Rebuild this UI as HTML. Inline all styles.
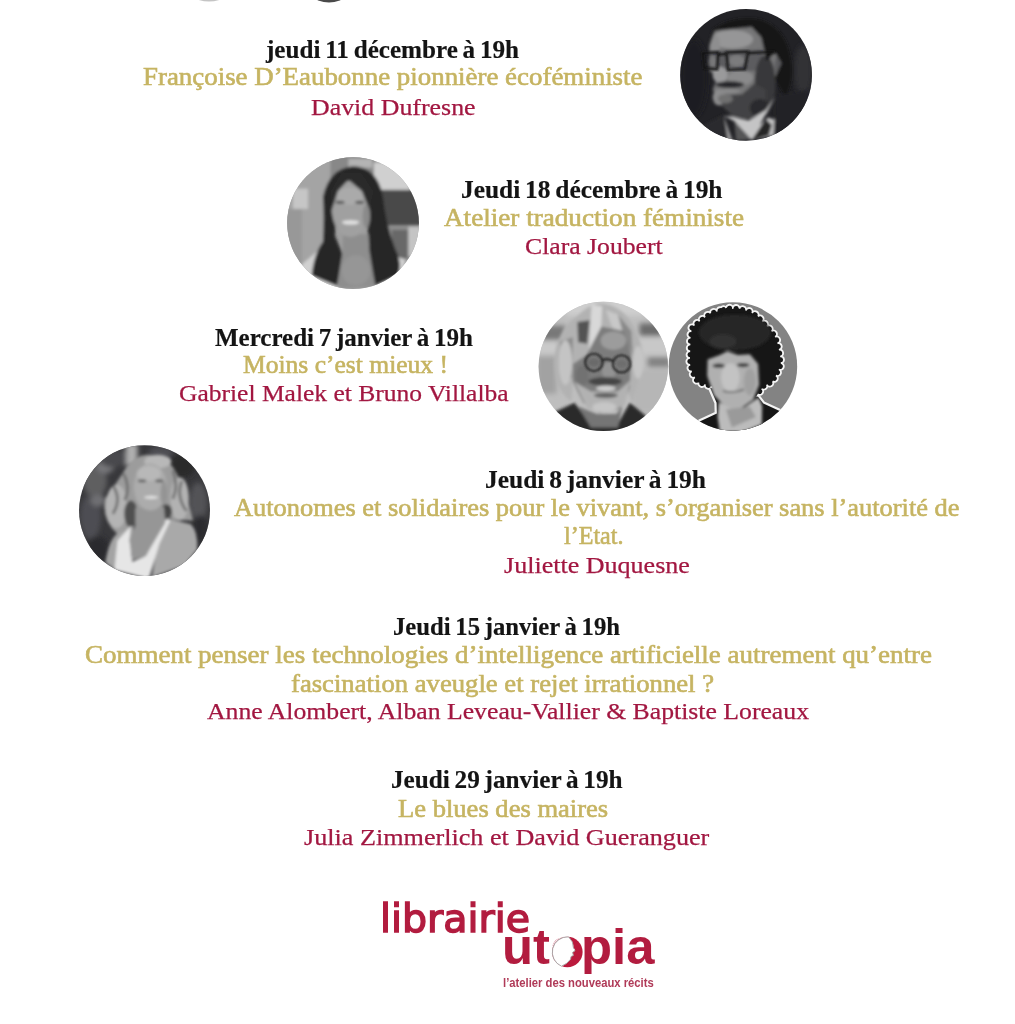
<!DOCTYPE html><html lang="fr"><head><meta charset="utf-8"><title>Librairie Utopia – programme</title><style>

html,body{margin:0;padding:0;background:#fff}
body{width:1015px;height:1024px;position:relative;overflow:hidden}
.l{position:absolute;white-space:nowrap;font-family:"Liberation Serif",serif;font-size:24px;line-height:1;transform-origin:0 0;margin:0}
.d{font-weight:bold;color:#141414;font-size:25px;word-spacing:-1.5px;-webkit-text-stroke:0.2px #141414}
.t{color:#c6b462;-webkit-text-stroke:0.6px #c6b462;font-size:25px}
.n{color:#a21741;-webkit-text-stroke:0.25px #a21741}
.lg1{font-family:"DejaVu Sans","Liberation Sans",sans-serif;font-size:38.5px;color:#b21c3f;-webkit-text-stroke:1.4px #b21c3f}
.lg2{font-family:"Liberation Sans",sans-serif;font-weight:bold;font-size:49.5px;color:#b21c3f}
.lg3{font-family:"Liberation Sans",sans-serif;font-weight:bold;font-size:12px;color:#b03a58}
#gfx{position:absolute;left:0;top:0}

</style></head><body>
<div class="l d" id="l0" style="left:266.0px;top:36.5px;transform:scaleX(1.0045)">jeudi 11 décembre à 19h</div>
<div class="l t" id="l1" style="left:142.5px;top:64.1px;transform:scaleX(1.0755)">Françoise D’Eaubonne pionnière écoféministe</div>
<div class="l n" id="l2" style="left:311.0px;top:94.5px;transform:scaleX(1.0785)">David Dufresne</div>
<div class="l d" id="l3" style="left:461.0px;top:176.5px;transform:scaleX(1.0158)">Jeudi 18 décembre à 19h</div>
<div class="l t" id="l4" style="left:444.0px;top:205.0px;transform:scaleX(1.0858)">Atelier traduction féministe</div>
<div class="l n" id="l5" style="left:525.0px;top:233.5px;transform:scaleX(1.0706)">Clara Joubert</div>
<div class="l d" id="l6" style="left:215.0px;top:324.8px;transform:scaleX(0.9998)">Mercredi 7 janvier à 19h</div>
<div class="l t" id="l7" style="left:242.5px;top:352.1px;transform:scaleX(1.0216)">Moins c’est mieux !</div>
<div class="l n" id="l8" style="left:178.5px;top:380.5px;transform:scaleX(1.0631)">Gabriel Malek et Bruno Villalba</div>
<div class="l d" id="l9" style="left:484.5px;top:466.7px;transform:scaleX(1.0176)">Jeudi 8 janvier à 19h</div>
<div class="l t" id="l10" style="left:234.0px;top:495.0px;transform:scaleX(1.0562)">Autonomes et solidaires pour le vivant, s’organiser sans l’autorité de</div>
<div class="l t" id="l11" style="left:564.0px;top:523.0px;transform:scaleX(0.9631)">l’Etat.</div>
<div class="l n" id="l12" style="left:504.0px;top:552.5px;transform:scaleX(1.0853)">Juliette Duquesne</div>
<div class="l d" id="l13" style="left:392.5px;top:614.3px;transform:scaleX(0.9884)">Jeudi 15 janvier à 19h</div>
<div class="l t" id="l14" style="left:85.0px;top:642.3px;transform:scaleX(1.0788)">Comment penser les technologies d’intelligence artificielle autrement qu’entre</div>
<div class="l t" id="l15" style="left:291.0px;top:671.1px;transform:scaleX(1.0673)">fascination aveugle et rejet irrationnel ?</div>
<div class="l n" id="l16" style="left:206.5px;top:699.4px;transform:scaleX(1.0715)">Anne Alombert, Alban Leveau-Vallier &amp; Baptiste Loreaux</div>
<div class="l d" id="l17" style="left:391.0px;top:766.7px;transform:scaleX(1.0080)">Jeudi 29 janvier à 19h</div>
<div class="l t" id="l18" style="left:397.5px;top:795.8px;transform:scaleX(1.0624)">Le blues des maires</div>
<div class="l n" id="l19" style="left:304.0px;top:824.8px;transform:scaleX(1.0899)">Julia Zimmerlich et David Gueranguer</div>
<div class="l lg1" id="l20" style="left:380.0px;top:900.4px;transform:scaleX(1.0269)">librairie</div>
<div class="l lg2" id="l21" style="left:501.6px;top:922.1px;transform:scaleX(1.0264)">utopia</div>
<div class="l lg3" id="l22" style="left:503.3px;top:977.2px;transform:scaleX(0.9375)">l’atelier des nouveaux récits</div>
<svg id="gfx" width="1015" height="1024" viewBox="0 0 1015 1024">
<defs>
<filter id="b3" x="-10%" y="-10%" width="120%" height="120%"><feGaussianBlur stdDeviation="2.5"/></filter>
<filter id="b6" x="-10%" y="-10%" width="120%" height="120%"><feGaussianBlur stdDeviation="6"/></filter>
<filter id="b10" x="-10%" y="-10%" width="120%" height="120%"><feGaussianBlur stdDeviation="10"/></filter>
<filter id="b16" x="-20%" y="-20%" width="140%" height="140%"><feGaussianBlur stdDeviation="16"/></filter>
<clipPath id="c1"><circle cx="508" cy="500" r="440"/></clipPath>
<clipPath id="c2"><circle cx="501" cy="515" r="440"/></clipPath>
<clipPath id="c3"><circle cx="503" cy="497" r="432"/></clipPath>
<clipPath id="c4"><circle cx="487" cy="497" r="429"/></clipPath>
<clipPath id="c5"><circle cx="511" cy="498" r="437"/></clipPath>
</defs>

<!-- top cropped fragments -->
<ellipse cx="209" cy="-3" rx="13" ry="4.6" fill="#c4c4c4"/>
<ellipse cx="329" cy="-3" rx="14" ry="5.4" fill="#4a4a4a"/>

<!-- photo 1 : David Dufresne -->
<svg x="670" y="0" width="152" height="152" viewBox="0 0 1015 1015">
<g clip-path="url(#c1)">
<rect width="1015" height="1015" fill="#222226"/>
<g filter="url(#b16)">
<ellipse cx="890" cy="470" rx="60" ry="170" fill="#303034"/>
<ellipse cx="160" cy="520" rx="90" ry="260" fill="#1e1e21"/>
</g>
<g filter="url(#b10)">
<!-- face base -->
<path d="M285,200 L560,175 L625,260 L640,400 L700,355 L760,390 L745,500 L690,545 L690,640 L620,740 L520,790 L420,770 L330,690 L285,600 L315,520 L262,470 L262,300 Z" fill="#767677"/>
<ellipse cx="415" cy="262" rx="140" ry="62" fill="#969697"/>
<ellipse cx="300" cy="300" rx="35" ry="70" fill="#8e8e8f"/>
<!-- eye band darker -->
<path d="M262,340 L620,330 L630,470 L500,475 L400,450 L330,470 L262,455 Z" fill="#5c5c5e"/>
<ellipse cx="445" cy="405" rx="55" ry="40" fill="#7c7c7d"/>
<ellipse cx="285" cy="410" rx="28" ry="40" fill="#777778"/>
<!-- nose & cheek -->
<ellipse cx="335" cy="500" rx="50" ry="55" fill="#9a9a9b"/>
<ellipse cx="470" cy="520" rx="85" ry="50" fill="#8a8a8b"/>
<ellipse cx="330" cy="650" rx="45" ry="55" fill="#8c8c8d"/>
<!-- shadow side -->
<ellipse cx="635" cy="560" rx="70" ry="190" fill="#38383b"/>
<ellipse cx="728" cy="440" rx="28" ry="72" fill="#5c5c5e"/>
<!-- hair -->
<path d="M255,330 L285,195 Q420,95 610,130 Q780,190 810,400 Q830,560 770,650 L715,560 L700,520 L745,420 L700,350 L645,410 L610,250 L545,180 L300,205 Z" fill="#141416"/>
<!-- mustache / lips / beard -->
<ellipse cx="400" cy="565" rx="95" ry="22" fill="#28282a"/>
<ellipse cx="395" cy="607" rx="75" ry="14" fill="#8a8a8b"/>
<path d="M330,640 L480,630 L560,560 L640,600 L640,720 L540,790 L420,775 L350,710 Z" fill="#434345"/>
<ellipse cx="370" cy="660" rx="50" ry="30" fill="#6f6f70"/>
<ellipse cx="600" cy="720" rx="70" ry="60" fill="#2c2c2e"/>
<!-- collar -->
<path d="M365,775 L430,810 L545,935 L690,905 L700,800 L655,785 L600,835 L700,650 L640,735 L525,805 L420,780 Z" fill="#c4c4c5"/>
<path d="M360,775 L420,945 L335,945 Z" fill="#9a9a9b"/>
<path d="M545,935 L640,795 L680,835 L660,905 Z" fill="#252528"/>
<path d="M430,815 L540,930 L440,940 Z" fill="#555557"/>
<!-- jacket -->
<path d="M180,860 L360,765 L390,960 L180,960 Z" fill="#2b2b2e"/>
<path d="M705,640 L920,600 L920,930 L695,910 Z" fill="#242427"/>
</g>
<!-- glasses -->
<g fill="none" stroke="#161617" stroke-width="15" filter="url(#b6)">
<path d="M218,355 L322,350 L316,462 L228,456 Z"/>
<path d="M377,350 L522,345 L500,462 L387,466 Z"/>
<path d="M322,365 L377,360 M522,355 L700,345"/>
</g>
</g>
</svg>

<!-- photo 2 : Clara Joubert -->
<svg x="278" y="146" width="152" height="152" viewBox="0 0 1015 1015">
<g clip-path="url(#c2)">
<rect width="1015" height="1015" fill="#9d9d9d"/>
<g filter="url(#b10)">
<rect x="40" y="60" width="320" height="800" fill="#a4a4a4"/>
<rect x="40" y="420" width="120" height="400" fill="#989898"/>
<rect x="100" y="285" width="100" height="135" fill="#c6c6c6"/>
<rect x="350" y="60" width="300" height="300" fill="#888888"/>
<rect x="470" y="85" width="160" height="60" fill="#b4b4b4"/>
<rect x="640" y="110" width="240" height="180" fill="#d0d0d0"/>
<rect x="690" y="295" width="270" height="235" fill="#4a4a4a"/>
<rect x="735" y="535" width="230" height="220" fill="#8c8c8c"/>
<rect x="760" y="560" width="110" height="190" fill="#686868"/>
<rect x="870" y="540" width="80" height="200" fill="#c4c4c4"/>
<!-- floral top -->
<path d="M160,790 L290,680 L420,960 L160,960 Z" fill="#d0d0d0"/>
<path d="M700,700 L850,760 L820,900 L640,960 Z" fill="#d4d4d4"/>
<!-- hair -->
<path d="M500,135 Q660,140 700,330 Q720,520 780,680 Q835,790 800,865 L650,935 L600,720 L600,300 L480,230 L400,300 L380,600 L430,720 L395,935 L225,865 Q240,720 300,640 Q310,470 300,340 Q340,150 500,135 Z" fill="#252525"/>
<!-- neck and chest -->
<path d="M435,590 L605,590 L610,700 L650,940 L395,950 L430,720 Z" fill="#8e8e8e"/>
<ellipse cx="520" cy="830" rx="95" ry="100" fill="#969696"/>
<!-- face -->
<ellipse cx="485" cy="420" rx="126" ry="188" fill="#a0a0a0"/>
<ellipse cx="480" cy="335" rx="88" ry="58" fill="#aaaaaa"/>
<path d="M400,300 L470,225 L560,300 L612,430 L640,300 L560,180 L420,180 L350,300 L358,430 Z" fill="#292929"/>
<ellipse cx="485" cy="510" rx="58" ry="15" fill="#e2e2e2"/>
<ellipse cx="415" cy="375" rx="30" ry="10" fill="#505050"/>
<ellipse cx="545" cy="375" rx="30" ry="10" fill="#505050"/>
<ellipse cx="590" cy="470" rx="25" ry="80" fill="#8a8a8a"/>
</g>
</g>
</svg>

<!-- photo 3 : grey-haired man -->
<svg x="528" y="292" width="152" height="152" viewBox="0 0 1015 1015">
<g clip-path="url(#c3)">
<rect width="1015" height="1015" fill="#bebebe"/>
<g filter="url(#b16)">
<rect x="60" y="225" width="190" height="95" fill="#787878"/>
<rect x="60" y="330" width="140" height="80" fill="#cacaca"/>
<rect x="60" y="430" width="130" height="250" fill="#a2a2a2"/>
<rect x="745" y="210" width="150" height="85" fill="#6c6c6c"/>
<rect x="700" y="300" width="250" height="120" fill="#c8c8c8"/>
<rect x="800" y="435" width="150" height="65" fill="#828282"/>
<rect x="700" y="520" width="260" height="280" fill="#b6b6b6"/>
<rect x="250" y="50" width="520" height="110" fill="#cecece"/>
</g>
<g filter="url(#b10)">
<!-- hair -->
<path d="M470,75 Q640,80 720,260 Q800,420 745,560 L700,740 L640,600 L300,600 L290,730 Q180,660 175,480 Q185,250 330,160 Q400,90 470,75 Z" fill="#b2b2b2"/>
<path d="M425,85 L495,95 L480,430 L405,410 Z" fill="#d8d8d8"/>
<path d="M330,200 L412,188 L395,345 L335,335 Z" fill="#525252"/>
<path d="M215,330 L300,300 L295,580 L225,540 Z" fill="#8c8c8c"/>
<path d="M600,150 L690,260 L700,420 L640,300 Z" fill="#888888"/>
<path d="M520,120 L600,150 L640,300 L560,230 Z" fill="#c8c8c8"/>
<ellipse cx="250" cy="470" rx="45" ry="150" fill="#c4c4c4"/>
<ellipse cx="735" cy="470" rx="35" ry="110" fill="#c6c6c6"/>
<!-- face -->
<path d="M490,230 L640,260 L690,420 L680,640 L620,780 L480,810 L370,740 L300,600 L300,480 L390,420 Z" fill="#7c7c7c"/>
<ellipse cx="570" cy="325" rx="85" ry="62" fill="#9c9c9c"/>
<ellipse cx="540" cy="525" rx="48" ry="58" fill="#939393"/>
<ellipse cx="360" cy="560" rx="45" ry="70" fill="#727272"/>
<ellipse cx="440" cy="470" rx="42" ry="30" fill="#6a6a6a"/>
<ellipse cx="625" cy="480" rx="42" ry="30" fill="#6e6e6e"/>
<!-- beard -->
<path d="M310,600 L420,665 L600,665 L685,590 L645,755 L520,815 L395,775 Z" fill="#b2b2b2"/>
<ellipse cx="515" cy="598" rx="112" ry="28" fill="#444444"/>
<ellipse cx="520" cy="643" rx="66" ry="18" fill="#cdcdcd"/>
<ellipse cx="520" cy="690" rx="80" ry="17" fill="#626262"/>
<ellipse cx="510" cy="770" rx="80" ry="35" fill="#c6c6c6"/>
<!-- shirt -->
<path d="M170,805 L310,740 L420,880 L600,880 L680,740 L790,830 L700,960 L250,960 Z" fill="#2b2b2b"/>
<path d="M335,765 L460,815 L590,815 L630,765 L600,905 L420,905 Z" fill="#747474"/>
</g>
<g fill="none" stroke="#262626" stroke-width="14" filter="url(#b6)">
<circle cx="440" cy="470" r="58"/><circle cx="625" cy="480" r="58"/><path d="M498,455 Q530,440 567,460"/>
</g>
</g>
</svg>

<!-- photo 4 : curly-haired young man -->
<svg x="660" y="292" width="152" height="152" viewBox="0 0 1015 1015">
<g clip-path="url(#c4)">
<rect width="1015" height="1015" fill="#838383"/>
<g filter="url(#b3)">
<!-- white outline + figure -->
<path d="M655,700 L690,745 L810,800 L710,960 L250,960 L265,865 L380,812 L378,740 L335,640 Z" fill="#f4f4f4" stroke="#f4f4f4" stroke-width="30" stroke-linejoin="round"/>
<path transform="translate(503 400) scale(0.955) translate(-503 -400)" d="M420,105 L445,90 L480,100 L520,95 L600,118 L660,150 L700,200 L760,260 L790,310 L800,350 L815,420 L822,490 L790,560 L760,610 L700,640 L655,700 L335,640 L240,612 L200,540 L185,480 L190,300 L200,230 L250,190 L330,130 Z" fill="#f4f4f4" stroke="#f4f4f4" stroke-width="26" stroke-linejoin="round"/>
<path transform="translate(503 400) scale(0.955) translate(-503 -400)" d="M420,105 L445,90 L480,100 L520,95 L600,118 L660,150 L700,200 L760,260 L790,310 L800,350 L815,420 L822,490 L790,560 L760,610 L700,640 L655,700 L335,640 L240,612 L200,540 L185,480 L190,300 L200,230 L250,190 L330,130 Z" fill="none" stroke="#f4f4f4" stroke-width="62" stroke-linecap="round" stroke-dasharray="0.1 47"/>
<path d="M655,700 L690,745 L810,800 L710,960 L250,960 L265,865 L380,812 L378,740 L335,640 Z" fill="#181818"/>
<path transform="translate(503 400) scale(0.955) translate(-503 -400)" d="M420,105 L445,90 L480,100 L520,95 L600,118 L660,150 L700,200 L760,260 L790,310 L800,350 L815,420 L822,490 L790,560 L760,610 L700,640 L655,700 L335,640 L240,612 L200,540 L185,480 L190,300 L200,230 L250,190 L330,130 Z" fill="#181818"/>
<path transform="translate(503 400) scale(0.955) translate(-503 -400)" d="M420,105 L445,90 L480,100 L520,95 L600,118 L660,150 L700,200 L760,260 L790,310 L800,350 L815,420 L822,490 L790,560 L760,610 L700,640 L655,700 L335,640 L240,612 L200,540 L185,480 L190,300 L200,230 L250,190 L330,130 Z" fill="none" stroke="#181818" stroke-width="36" stroke-linecap="round" stroke-dasharray="0.1 47"/>
</g>
<g filter="url(#b10)">
<!-- face -->
<path d="M318,450 L400,420 L450,395 L520,420 L600,415 L655,480 L662,620 L622,720 L520,792 L440,772 L360,690 L315,560 Z" fill="#b0b0b0"/>
<ellipse cx="470" cy="570" rx="62" ry="95" fill="#c3c3c3"/>
<ellipse cx="600" cy="600" rx="40" ry="90" fill="#a0a0a0"/>
<!-- neck & shirt -->
<path d="M392,735 L520,800 L658,705 L682,762 L680,885 L560,935 L400,935 L385,835 Z" fill="#bcbcbc"/>
<path d="M440,785 L600,765 L640,835 L480,905 Z" fill="#9a9a9a"/>
<ellipse cx="392" cy="492" rx="42" ry="14" fill="#383838"/>
<ellipse cx="555" cy="488" rx="42" ry="14" fill="#383838"/>
<path d="M420,660 Q490,682 560,650" stroke="#6a6a6a" stroke-width="12" fill="none"/>
<!-- hair sheen -->
<ellipse cx="500" cy="270" rx="240" ry="120" fill="#262626"/>
<ellipse cx="420" cy="330" rx="90" ry="50" fill="#303030"/>
</g>
</g>
</svg>

<!-- photo 5 : Juliette Duquesne -->
<svg x="68" y="436" width="152" height="152" viewBox="0 0 1015 1015">
<g clip-path="url(#c5)">
<rect width="1015" height="1015" fill="#38383b"/>
<g filter="url(#b16)">
<rect x="385" y="50" width="80" height="150" fill="#b0b0b0"/>
<ellipse cx="180" cy="300" rx="80" ry="110" fill="#5e5e61"/>
<ellipse cx="250" cy="200" rx="60" ry="50" fill="#77777a"/>
<ellipse cx="150" cy="540" rx="70" ry="150" fill="#4e4e52"/>
<ellipse cx="200" cy="430" rx="50" ry="40" fill="#707073"/>
<ellipse cx="870" cy="440" rx="60" ry="130" fill="#525256"/>
<ellipse cx="300" cy="150" rx="90" ry="60" fill="#4a4a4e"/>
<ellipse cx="760" cy="200" rx="90" ry="80" fill="#29292c"/>
<ellipse cx="880" cy="620" rx="50" ry="90" fill="#2a2a2d"/>
<ellipse cx="200" cy="760" rx="80" ry="90" fill="#2b2b2e"/>
<ellipse cx="620" cy="110" rx="80" ry="40" fill="#505054"/>
</g>
<g filter="url(#b10)">
<!-- hair -->
<path d="M530,125 Q690,125 745,300 Q805,420 835,565 L700,560 L620,500 L440,500 L440,600 L330,655 Q225,560 245,420 Q315,330 395,200 Q450,130 530,125 Z" fill="#9c9c9c"/>
<ellipse cx="325" cy="470" rx="72" ry="145" fill="#b4b4b4"/>
<ellipse cx="745" cy="420" rx="62" ry="145" fill="#b2b2b2"/>
<ellipse cx="600" cy="170" rx="90" ry="45" fill="#b8b8b8"/>
<ellipse cx="420" cy="520" rx="45" ry="90" fill="#505050"/>
<ellipse cx="655" cy="505" rx="40" ry="50" fill="#464646"/>
<path d="M300,330 Q360,420 300,520 M370,250 Q420,340 380,430 M760,300 Q720,400 790,500 M700,230 Q740,330 700,420" stroke="#6e6e6e" stroke-width="18" fill="none"/>
<!-- cardigan -->
<path d="M250,845 Q270,700 330,650 L440,600 L400,905 L300,885 Z" fill="#a4a4a4"/>
<path d="M660,550 L820,590 Q870,640 862,760 L780,865 L560,945 L600,700 Z" fill="#a9a9a9"/>
<!-- white top -->
<path d="M420,600 L330,700 L310,895 L540,955 L610,720 L685,560 L640,560 L520,800 L430,840 L410,700 Z" fill="#e6e6e6"/>
<!-- neck and chest -->
<path d="M450,480 L640,470 L650,580 L520,800 L430,830 L410,690 L450,600 Z" fill="#969696"/>
<!-- face -->
<ellipse cx="550" cy="340" rx="110" ry="158" fill="#acacac"/>
<ellipse cx="540" cy="250" rx="80" ry="50" fill="#b8b8b8"/>
<ellipse cx="555" cy="410" rx="46" ry="11" fill="#e0e0e0"/>
<ellipse cx="495" cy="300" rx="28" ry="9" fill="#5a5a5a"/>
<ellipse cx="610" cy="300" rx="28" ry="9" fill="#5a5a5a"/>
<ellipse cx="640" cy="380" rx="22" ry="80" fill="#949494"/>
</g>
</g>
</svg>

<!-- logo moon -->
<g>
<circle cx="567.3" cy="952" r="16.2" fill="#ffffff"/>
<circle cx="567.3" cy="952" r="15.3" fill="#bb1a3d"/>
<path d="M568.6,936.9 Q573.6,941.5 573.4,947.5 L575,950.8 L572.6,952.4 L573.4,955.4 L571,956.6 L570.6,959.2 Q567.5,963.8 561.5,966.2 A15.3,15.3 0 0 1 568.6,936.9 Z" fill="#ffffff" stroke="#a4a4a4" stroke-width="0.9"/>
<circle cx="573.8" cy="949.6" r="0.8" fill="#fff"/>
</g>
</svg>

</body></html>
